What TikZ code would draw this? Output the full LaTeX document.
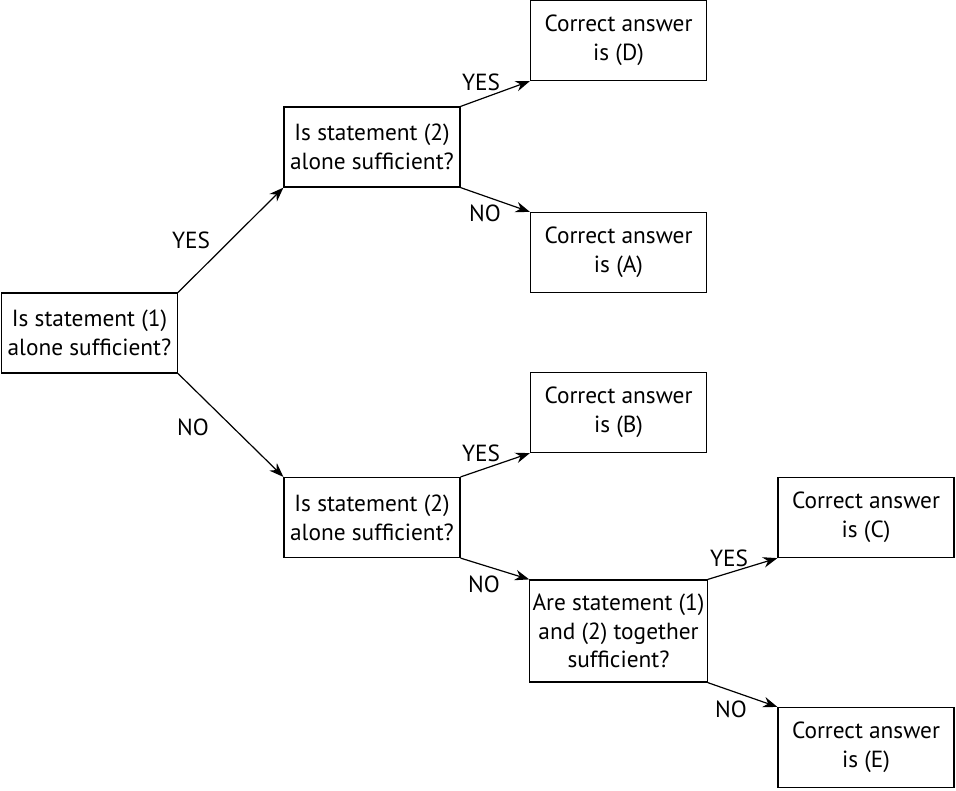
\documentclass[tikz,border=0pt]{standalone}
\usepackage{fontspec}
\setmainfont{PT Sans}
\usetikzlibrary{positioning,arrows.meta}

\begin{document}
\begin{tikzpicture}[x=0.75pt, y=-0.75pt, >={Stealth[length=3.8mm,width=2.8mm]},
  font=\fontsize{17.5}{21.5}\selectfont,
  box/.style={draw, line width=0.9pt, minimum width=132pt, minimum height=60pt, align=center, inner sep=2pt},
  lbl/.style={inner sep=0pt}]
\useasboundingbox (0,0) rectangle (956,790);
% question boxes
\node[box] (s1) at (89.5,333) {Is statement (1)\\alone sufficient?};
\node[box] (s2a) at (372,147) {Is statement (2)\\alone sufficient?};
\node[box] (s2b) at (372,517.5) {Is statement (2)\\alone sufficient?};
\node[box, minimum height=76.5pt] (both) at (618.5,631) {Are statement (1)\\and (2) together\\sufficient?};
% answer boxes
\node[box] (ansD) at (618.5,40.5) {Correct answer\\is (D)};
\node[box] (ansA) at (618.5,252.5) {Correct answer\\is (A)};
\node[box] (ansB) at (618.5,412.5) {Correct answer\\is (B)};
\node[box] (ansC) at (866,517.5) {Correct answer\\is (C)};
\node[box] (ansE) at (866,747.5) {Correct answer\\is (E)};
% connectors, corner to corner
\foreach \a/\b in {s1/s2a, s2a/ansD, s2b/ansB, both/ansC}
  \draw[->, line width=0.9pt] (\a.north east) -- (\b.south west);
\foreach \a/\b in {s1/s2b, s2a/ansA, s2b/both, both/ansE}
  \draw[->, line width=0.9pt] (\a.south east) -- (\b.north west);
% branch labels
\node[lbl] (y1) at (191,240) {YES};
\node[lbl] (n1) at (193,427) {NO};
\node[lbl] (y2) at (481,82) {YES};
\node[lbl] (n2) at (485,213) {NO};
\node[lbl] (y3) at (481,453) {YES};
\node[lbl] (n3) at (484,584) {NO};
\node[lbl] (y4) at (729,558) {YES};
\node[lbl] (n4) at (731,709) {NO};
\end{tikzpicture}
\end{document}
